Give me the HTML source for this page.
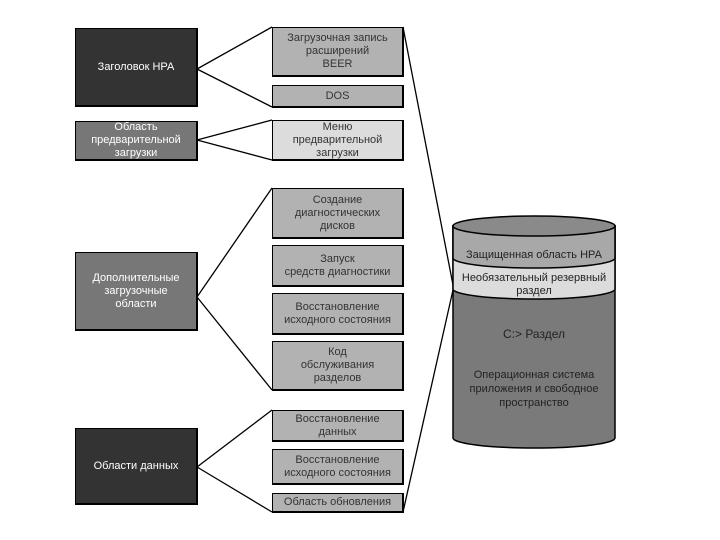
<!DOCTYPE html>
<html><head><meta charset="utf-8"><style>
body{margin:0;background:#fff;width:720px;height:540px;overflow:hidden;position:relative;font-family:"Liberation Sans",sans-serif}
.b{position:absolute;box-sizing:border-box;border:1px solid #000;border-right-width:2px;border-bottom-width:2px;display:flex;align-items:center;justify-content:center;text-align:center;font-size:11px;line-height:13px}
.d{background:#333;color:#fff}
.m{background:#777;color:#fff}
.g{background:#b2b2b2;color:#333}
.l{background:#dcdcdc;color:#333}
svg{position:absolute;left:0;top:0}
</style></head><body>
<svg width="720" height="540">
<g stroke="#000" stroke-width="1.3" fill="none">
<path d="M197 69L272 27M197 69L272 107M197 140L272 120M197 140L272 160M197 297L272 188M197 297L272 390M197 467L272 410M197 467L272 512M403 27L453 285M403 512L453 290"/>
</g>
<path d="M453 226V438A81 10 0 0 0 615 438V226Z" fill="#7a7a7a" stroke="#000" stroke-width="1.5"/>
<path d="M453 226V289A81 10 0 0 0 615 289V226Z" fill="#dcdcdc" stroke="#000" stroke-width="1.5"/>
<path d="M453 226V258A81 10 0 0 0 615 258V226Z" fill="#a8a8a8" stroke="#000" stroke-width="1.5"/>
<ellipse cx="534" cy="226" rx="81" ry="10" fill="#8a8a8a" stroke="#000" stroke-width="1.5"/>
<g font-family="Liberation Sans, sans-serif" font-size="11" fill="#222" text-anchor="middle">
<text x="534" y="258">Защищенная область НРА</text>
<text x="534" y="281">Необязательный резервный</text>
<text x="534" y="294">раздел</text>
<text x="534" y="338" font-size="12">C:&gt; Раздел</text>
<text x="534" y="378">Операционная система</text>
<text x="534" y="392">приложения и свободное</text>
<text x="534" y="406">пространство</text>
</g>
</svg>
<div class="b d" style="left:75px;top:28px;width:123px;height:79px">Заголовок НРА</div>
<div class="b m" style="left:75px;top:121px;width:123px;height:40px">Область<br>предварительной<br>загрузки</div>
<div class="b m" style="left:75px;top:252px;width:123px;height:79px">Дополнительные<br>загрузочные<br>области</div>
<div class="b d" style="left:75px;top:428px;width:123px;height:77px">Области данных</div>
<div class="b g" style="left:272px;top:27px;width:132px;height:50px">Загрузочная запись<br>расширений<br>BEER</div>
<div class="b g" style="left:272px;top:85px;width:132px;height:23px">DOS</div>
<div class="b l" style="left:272px;top:120px;width:132px;height:41px">Меню<br>предварительной<br>загрузки</div>
<div class="b g" style="left:272px;top:188px;width:132px;height:51px">Создание<br>диагностических<br>дисков</div>
<div class="b g" style="left:272px;top:245px;width:132px;height:42px">Запуск<br>средств диагностики</div>
<div class="b g" style="left:272px;top:293px;width:132px;height:42px">Восстановление<br>исходного состояния</div>
<div class="b g" style="left:272px;top:341px;width:132px;height:50px">Код<br>обслуживания<br>разделов</div>
<div class="b g" style="left:272px;top:410px;width:132px;height:32px">Восстановление<br>данных</div>
<div class="b g" style="left:272px;top:449px;width:132px;height:36px">Восстановление<br>исходного состояния</div>
<div class="b g" style="left:272px;top:493px;width:132px;height:20px">Область обновления</div>
</body></html>
